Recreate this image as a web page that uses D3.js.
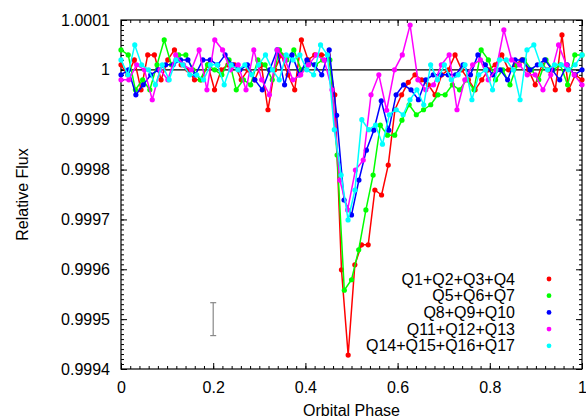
<!DOCTYPE html>
<html>
<head>
<meta charset="utf-8">
<script src="https://cdn.jsdelivr.net/npm/d3@7"></script>
<style>
  body { margin: 0; background: #fff; }
  svg { display: block; font-family: "Liberation Sans", Arial, sans-serif; }
</style>
</head>
<body>
<div id="content"></div>
<script>
// flux deviations from 1, in ppm; points are evenly spaced in phase
var redBins = 69;
var redFlux = [10, -10, 20, -40, 30, 30, -20, 20, 40, 10, 0, -20, -20, 10, -40, 0, 10, 10, -20, 0,
  -20, 10, -80, 0, 30, -10, -40, 60, 20, 30, 30, 30, -50, -401, -572, -391, -351, -351, -241, -251,
  -191, -80, -50, -25, -10, -20, -30, -50, -10, 0, 30, 0, -20, -40, -20, 0, 10, 30, 0, 10,
  20, 0, -30, 10, 0, -40, 70, -40, -10, -20];

var greenBins = 64;
var greenFlux = [40, 30, -40, -20, -40, 10, 60, 10, 30, 30, 0, -20, 10, 0, -10, 20, -40, -20, -30, 20,
  10, -20, 40, 20, 40, 0, 10, 10, 20, 20, -171, -442, -421, -361, -281, -211, -111, -131, -131, -101,
  -70, -90, -80, -70, -50, -50, -30, -40, -20, -40, 40, 20, -20, 0, -30, 10, 20, 0, -20, 20,
  0, 10, -30, 30, 30];

var blueBins = 62;
var blueFlux = [-10, 0, -50, -30, -10, 0, 10, 10, 20, 20, -10, 20, 20, 10, 30, 10, 0, 10, -20, -40,
  0, 40, -30, 30, -10, 20, 10, -10, 40, -91, -261, -291, -221, -161, -121, -62, -121, -50, -30, -40,
  -60, -20, -10, -10, -10, -10, 10, -10, 30, 10, -10, 0, -20, 20, 20, 0, 10, 20, 0, -20,
  10, -10, 0];

var magentaBins = 59;
var magentaFlux = [-20, -20, 10, 0, -60, 0, -20, 30, 10, 0, 40, -40, 60, 40, 0, 10, -40, 40, -20, -50,
  40, 20, -20, -10, 10, 30, 20, -40, -221, -281, -201, -181, -50, -10, -81, 0, 30, 90, -20, -40,
  -30, 10, 30, -80, -20, 10, 20, -20, 0, 80, 20, 10, -10, -10, -40, -10, 50, 10, -10, -30];

var cyanBins = 67;
var cyanFlux = [20, -10, 50, 10, 0, -30, 10, -20, 20, 10, -10, -10, -20, 10, 10, -30, 10, 0, 10, -10,
  10, 30, 0, -20, 30, 20, 30, 0, -10, 50, 30, -120, -211, -301, -241, -100, -120, -111, -149, -90,
  -80, -90, -60, -40, -70, 10, -20, 10, -20, -10, 10, -60, -10, 0, -40, 20, 20, 0, -60, 40,
  50, 10, 0, 10, 10, 0, 10, 30];

var seriesNames = ["Q1+Q2+Q3+Q4", "Q5+Q6+Q7", "Q8+Q9+Q10", "Q11+Q12+Q13", "Q14+Q15+Q16+Q17"];
var seriesColors = ["#ff0000", "#00ff00", "#0000ff", "#ff00ff", "#00ffff"];
var seriesFlux = [redFlux, greenFlux, blueFlux, magentaFlux, cyanFlux];
var seriesBins = [redBins, greenBins, blueBins, magentaBins, cyanBins];

var xTicks = [0, 0.2, 0.4, 0.6, 0.8, 1];
var yTicks = [0.9994, 0.9995, 0.9996, 0.9997, 0.9998, 0.9999, 1, 1.0001];
var yTickLabels = ["0.9994", "0.9995", "0.9996", "0.9997", "0.9998", "0.9999", "1", "1.0001"];

// typical error bar drawn at phase 0.2
var errPhase = 0.2, errCenter = 0.9995, errHalf = 0.000033;

var w = 586, h = 418;
var margin = {left: 121, right: 4, top: 20, bottom: 49};

var svg = d3.select("#content").append("svg")
  .attr("width", w)
  .attr("height", h);

var x = d3.scaleLinear().domain([0, 1]).range([margin.left, w - margin.right]);
var y = d3.scaleLinear().domain([0.9994, 1.0001]).range([h - margin.bottom, margin.top]);

function drawAxis(axis, tx, ty, labels) {
  var g = svg.append("g")
    .attr("transform", "translate(" + tx + "," + ty + ")")
    .call(axis);
  g.select(".domain").remove();
  g.selectAll("line").attr("stroke", "#000").attr("stroke-width", 1);
  g.selectAll("text").attr("fill", "#000").style("font-size", "16px")
    .style("font-family", "'Liberation Sans', Arial, sans-serif");
  if (!labels) g.selectAll("text").remove();
  return g;
}

var xMinor = d3.range(0, 51).map(function(i) { return i / 50; });
var yMinor = d3.range(0, 71).map(function(i) { return 0.9994 + i * 0.00001; });

// minor ticks on all four sides
drawAxis(d3.axisBottom(x).tickValues(xMinor).tickSize(-3).tickFormat(""), 0, y.range()[0], false);
drawAxis(d3.axisTop(x).tickValues(xMinor).tickSize(-3).tickFormat(""), 0, y.range()[1], false);
drawAxis(d3.axisLeft(y).tickValues(yMinor).tickSize(-3).tickFormat(""), x.range()[0], 0, false);
drawAxis(d3.axisRight(y).tickValues(yMinor).tickSize(-3).tickFormat(""), x.range()[1], 0, false);

// major ticks
drawAxis(d3.axisBottom(x).tickValues(xTicks).tickSize(-6).tickPadding(12.5)
  .tickFormat(function(d) { return d3.format("")(d); }), 0, y.range()[0], true);
drawAxis(d3.axisTop(x).tickValues(xTicks).tickSize(-6).tickFormat(""), 0, y.range()[1], false);
drawAxis(d3.axisLeft(y).tickValues(yTicks).tickSize(-6).tickPadding(11)
  .tickFormat(function(d, i) { return yTickLabels[i]; }), x.range()[0], 0, true);
drawAxis(d3.axisRight(y).tickValues(yTicks).tickSize(-6).tickFormat(""), x.range()[1], 0, false);

// frame
svg.append("rect")
  .attr("x", x.range()[0])
  .attr("y", y.range()[1])
  .attr("width", x.range()[1] - x.range()[0])
  .attr("height", y.range()[0] - y.range()[1])
  .attr("fill", "none")
  .attr("stroke", "#000")
  .attr("stroke-width", 1.2);

// unit flux line
svg.append("line")
  .attr("x1", x(0)).attr("x2", x(1))
  .attr("y1", y(1)).attr("y2", y(1))
  .attr("stroke", "#000")
  .attr("stroke-width", 1.3);

var line = d3.line()
  .x(function(d) { return x(d.phase); })
  .y(function(d) { return y(d.flux); });

seriesFlux.forEach(function(flux, s) {
  var pts = flux.map(function(v, i) {
    return {phase: i / seriesBins[s], flux: 1 + v / 1e6};
  });
  var g = svg.append("g").attr("class", "series");
  g.append("path")
    .datum(pts)
    .attr("d", line)
    .attr("fill", "none")
    .attr("stroke", seriesColors[s])
    .attr("stroke-width", 1.5);
  g.selectAll("circle")
    .data(pts)
    .enter()
    .append("circle")
    .attr("cx", function(d) { return x(d.phase); })
    .attr("cy", function(d) { return y(d.flux); })
    .attr("r", 2.6)
    .attr("fill", seriesColors[s]);
});

// error bar
var eb = svg.append("g").attr("stroke", "#888").attr("stroke-width", 1.2);
eb.append("line")
  .attr("x1", x(errPhase)).attr("x2", x(errPhase))
  .attr("y1", y(errCenter + errHalf)).attr("y2", y(errCenter - errHalf));
eb.append("line")
  .attr("x1", x(errPhase) - 3).attr("x2", x(errPhase) + 3)
  .attr("y1", y(errCenter + errHalf)).attr("y2", y(errCenter + errHalf));
eb.append("line")
  .attr("x1", x(errPhase) - 3).attr("x2", x(errPhase) + 3)
  .attr("y1", y(errCenter - errHalf)).attr("y2", y(errCenter - errHalf));

// legend
var legend = svg.append("g")
  .selectAll("g")
  .data(seriesNames)
  .enter()
  .append("g")
  .attr("transform", function(d, i) { return "translate(0," + (279 + i * 16.7) + ")"; });

legend.append("text")
  .attr("x", 515)
  .attr("dy", "0.35em")
  .attr("text-anchor", "end")
  .style("font-size", "16px")
  .text(function(d) { return d; });

legend.append("circle")
  .attr("cx", 549)
  .attr("r", 2.4)
  .attr("fill", function(d, i) { return seriesColors[i]; });

// axis titles
svg.append("text")
  .attr("x", (x.range()[0] + x.range()[1]) / 2)
  .attr("y", 416)
  .attr("text-anchor", "middle")
  .style("font-size", "16px")
  .text("Orbital Phase");

svg.append("text")
  .attr("transform", "translate(28," + ((y.range()[0] + y.range()[1]) / 2) + ") rotate(-90)")
  .attr("text-anchor", "middle")
  .style("font-size", "16px")
  .text("Relative Flux");
</script>
</body>
</html>
